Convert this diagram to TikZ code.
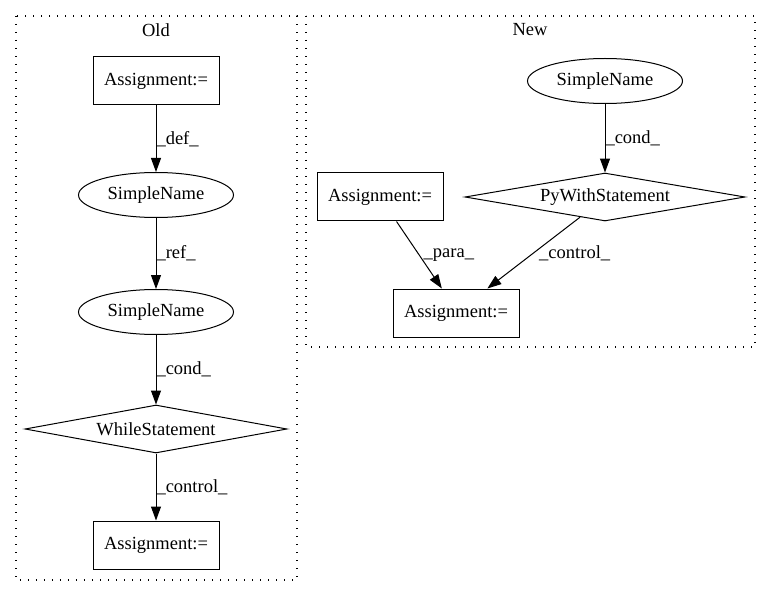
\documentclass[tikz,border=0pt]{standalone}
\usepackage{fontspec}
\setmainfont{Liberation Serif}
\usepackage{tikz}
\usetikzlibrary{arrows.meta}
\usetikzlibrary{shapes.geometric}
\tikzset{
  every node/.style={
    font=\fontsize{18.5}{22}\selectfont,
    inner sep=3pt,
  },
  cluster/.style={
    draw=black,
    line width=1.3pt,
    dash pattern=on 1.3pt off 6.7pt,
  },
  stmt/.style={
    draw=black,
    line width=1pt,
    rectangle,
    minimum width=126pt,
    minimum height=48pt,
  },
  simplename/.style={
    draw=black,
    line width=1pt,
    ellipse,
    inner sep=0pt,
    minimum width=155pt,
    minimum height=45pt,
  },
  branch/.style={
    draw=black,
    line width=1pt,
    diamond,
    aspect=6,
    inner sep=0pt,
    minimum width=#1,
    minimum height=48pt,
  },
  branch/.default={262pt},
  flow/.style={
    line width=1pt,
    -{Triangle[length=14pt,width=10pt]},
  },
  lbl/.style={
    anchor=west,
    inner sep=0pt,
  },
}
\begin{document}
\begin{tikzpicture}[x=1pt,y=-1pt]
    \useasboundingbox (0,0) rectangle (771,596);
    \draw[cluster] (16,16) rectangle (297,580);
    \draw[cluster] (306,16) rectangle (755,347);
    \node (oldlbl) at (156,30) {Old};
    \node (newlbl) at (530,30) {New};

    \node[stmt] (oasgtop) at (156,81) {Assignment:=};
    \node[simplename] (oname1) at (156,195) {SimpleName};
    \node[simplename] (oname2) at (156,312) {SimpleName};
    \node[branch] (owhile) at (156,429) {WhileStatement};
    \node[stmt] (oasgbot) at (156,545) {Assignment:=};

    \node[simplename] (nname) at (605,81) {SimpleName};
    \node[branch=280pt] (nwith) at (605,197) {PyWithStatement};
    \node[stmt] (nasgleft) at (380,197) {Assignment:=};
    \node[stmt] (nasgbot) at (456,313) {Assignment:=};

    \draw[flow] (oasgtop) -- node[lbl] {\_def\_} (oname1);
    \draw[flow] (oname1) -- node[lbl] {\_ref\_} (oname2);
    \draw[flow] (oname2) -- node[lbl] {\_cond\_} (owhile);
    \draw[flow] (owhile) -- node[lbl] {\_control\_} (oasgbot);

    \draw[flow] (nname) -- node[lbl] {\_cond\_} (nwith);
    \draw[flow] (nasgleft.-56) -- node[lbl,xshift=4pt] {\_para\_} (nasgbot.120);
    \draw[flow] (nwith.-141) -- node[lbl,xshift=5pt] {\_control\_} (nasgbot.38);
  \end{tikzpicture}
\end{document}
